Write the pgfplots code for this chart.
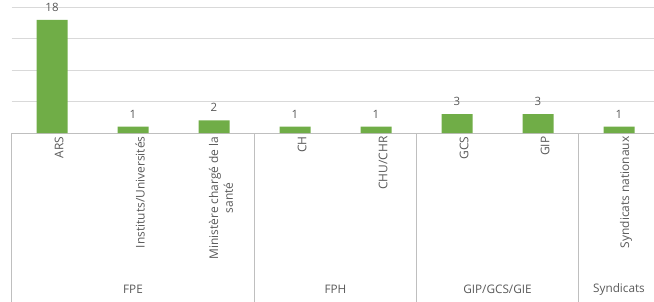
\documentclass[border=0pt]{standalone}
\usepackage{pgfplots}
\pgfplotsset{compat=1.18}
\usepackage{fontspec}
\setmainfont{Open Sans}
\definecolor{barg}{HTML}{70AD47}
\definecolor{txt}{HTML}{595959}
\definecolor{gridc}{HTML}{D9D9D9}
\definecolor{sepc}{HTML}{BFBFBF}
\begin{document}
\begin{tikzpicture}
\path[use as bounding box] (0,0) rectangle (654bp,302bp);
\begin{axis}[
  at={(11.5bp,169bp)}, anchor=south west,
  scale only axis, width=648bp, height=125.6bp,
  xmin=-0.5, xmax=7.5, ymin=0, ymax=20,
  /pgf/number format/assume math mode=true,
  axis x line=bottom, axis y line=left,
  x axis line style={sepc, line width=0.8bp, -},
  y axis line style={draw=none},
  ytick={0,5,10,15,20}, yticklabels=\empty,
  ymajorgrids, grid style={gridc, line width=0.8bp},
  major tick length=0pt,
  xtick={0,...,7},
  xticklabels={ARS,Instituts/Universités,{Ministère chargé de la\\santé},CH,CHU/CHR,GCS,GIP,Syndicats nationaux},
  xticklabel style={rotate=90, anchor=east, align=center, text=txt,
    font=\fontsize{12}{15}\selectfont, yshift=-7bp},
  ybar, bar width=31bp,
  nodes near coords,
  every node near coord/.append style={text=txt, font=\fontsize{11.5}{13}\selectfont, yshift=5bp},
  clip=false,
]
\addplot[fill=barg, draw=none] coordinates {(0,18) (1,1) (2,2) (3,1) (4,1) (5,3) (6,3) (7,1)};
\foreach \s in {-0.5,2.5,4.5,6.5} {
  \edef\tmp{\noexpand\draw[sepc, line width=0.8bp] (axis cs:\s,0) -- ++(0pt,-170bp);}
  \tmp
}
\foreach \c/\t in {1/FPE,3.5/FPH,5.5/GIP\slash GCS\slash GIE,7/Syndicats} {
  \edef\tmp{\noexpand\node[text=txt, font=\noexpand\fontsize{11.8}{13}\noexpand\selectfont] at ([yshift=-156bp]axis cs:\c,0) {\t};}
  \tmp
}
\end{axis}
\end{tikzpicture}
\end{document}
